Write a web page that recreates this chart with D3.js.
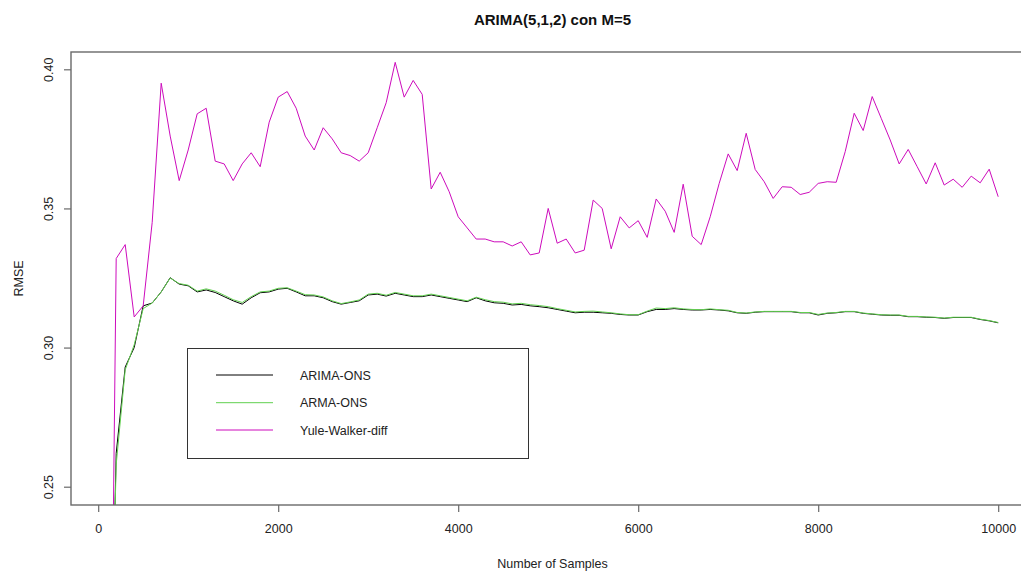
<!DOCTYPE html>
<html>
<head>
<meta charset="utf-8">
<script src="https://cdn.jsdelivr.net/npm/d3@7"></script>
<style>
  body { margin: 0; background: #fff; }
  text { font-family: "Liberation Sans", Arial, sans-serif; }
</style>
</head>
<body>
<script>
// number of samples (x values)
var samples = [
  100, 200, 300, 400, 500, 600, 700, 800, 900, 1000,
  1100, 1200, 1300, 1400, 1500, 1600, 1700, 1800, 1900, 2000,
  2100, 2200, 2300, 2400, 2500, 2600, 2700, 2800, 2900, 3000,
  3100, 3200, 3300, 3400, 3500, 3600, 3700, 3800, 3900, 4000,
  4100, 4200, 4300, 4400, 4500, 4600, 4700, 4800, 4900, 5000,
  5100, 5200, 5300, 5400, 5500, 5600, 5700, 5800, 5900, 6000,
  6100, 6200, 6300, 6400, 6500, 6600, 6700, 6800, 6900, 7000,
  7100, 7200, 7300, 7400, 7500, 7600, 7700, 7800, 7900, 8000,
  8100, 8200, 8300, 8400, 8500, 8600, 8700, 8800, 8900, 9000,
  9100, 9200, 9300, 9400, 9500, 9600, 9700, 9800, 9900, 10000
];

var arimaOns = [
  0.120, 0.262, 0.293, 0.300, 0.315, 0.316, 0.320, 0.3251, 0.3228, 0.3222,
  0.3200, 0.3207, 0.3198, 0.3183, 0.3168, 0.3156, 0.3179, 0.3197, 0.3200, 0.3210,
  0.3213, 0.3200, 0.3186, 0.3186, 0.3179, 0.3165, 0.3156, 0.3162, 0.3168, 0.3189,
  0.3192, 0.3185, 0.3195, 0.3189, 0.3183, 0.3183, 0.3189, 0.3183, 0.3177, 0.3171,
  0.3165, 0.3179, 0.3168, 0.3161, 0.3159, 0.3153, 0.3155, 0.3150, 0.3147, 0.3143,
  0.3137, 0.3131, 0.3125, 0.3127, 0.3127, 0.3125, 0.3123, 0.3119, 0.3117, 0.3117,
  0.3129, 0.3137, 0.3137, 0.3140, 0.3137, 0.3135, 0.3135, 0.3137, 0.3135, 0.3132,
  0.3125, 0.3123, 0.3127, 0.3129, 0.3129, 0.3129, 0.3129, 0.3125, 0.3125, 0.3117,
  0.3123, 0.3125, 0.3129, 0.3129, 0.3123, 0.3120, 0.3117, 0.3116, 0.3116, 0.3111,
  0.3111, 0.3109, 0.3108, 0.3105, 0.3108, 0.3108, 0.3108, 0.3101, 0.3096, 0.3089
];

var armaOns = [
  0.130, 0.258, 0.292, 0.301, 0.314, 0.316, 0.320, 0.3250, 0.3230, 0.3224,
  0.3203, 0.3211, 0.3203, 0.3188, 0.3172, 0.3162, 0.3183, 0.3200, 0.3203, 0.3213,
  0.3215, 0.3203, 0.3190, 0.3189, 0.3182, 0.3168, 0.3158, 0.3164, 0.3171, 0.3192,
  0.3195, 0.3188, 0.3198, 0.3192, 0.3186, 0.3186, 0.3192, 0.3186, 0.3180, 0.3174,
  0.3168, 0.3181, 0.3172, 0.3165, 0.3163, 0.3157, 0.3159, 0.3154, 0.3151, 0.3147,
  0.3140, 0.3134, 0.3128, 0.3130, 0.3131, 0.3128, 0.3125, 0.3121, 0.3118, 0.3118,
  0.3131, 0.3142, 0.3140, 0.3143, 0.3139, 0.3137, 0.3136, 0.3139, 0.3136, 0.3134,
  0.3126, 0.3124, 0.3128, 0.3130, 0.3130, 0.3130, 0.3130, 0.3126, 0.3126, 0.3119,
  0.3124, 0.3126, 0.3130, 0.3130, 0.3124, 0.3121, 0.3118, 0.3117, 0.3117, 0.3112,
  0.3112, 0.3110, 0.3109, 0.3106, 0.3109, 0.3109, 0.3109, 0.3102, 0.3097, 0.3090
];

var yuleWalker = [
  0.040, 0.332, 0.337, 0.311, 0.315, 0.345, 0.395, 0.376, 0.360, 0.371,
  0.384, 0.386, 0.367, 0.366, 0.360, 0.366, 0.370, 0.365, 0.381, 0.390,
  0.392, 0.386, 0.376, 0.371, 0.379, 0.375, 0.370, 0.369, 0.367, 0.370,
  0.379, 0.388, 0.4025, 0.390, 0.396, 0.391, 0.357, 0.363, 0.356, 0.347,
  0.343, 0.339, 0.339, 0.338, 0.338, 0.3365, 0.338, 0.3333, 0.334, 0.350,
  0.3375, 0.339, 0.334, 0.335, 0.353, 0.350, 0.3355, 0.347, 0.343, 0.3456,
  0.3396, 0.3534, 0.349, 0.3414, 0.3587, 0.340, 0.337, 0.347, 0.359, 0.3696,
  0.3636, 0.377, 0.364, 0.3596, 0.3536, 0.3578, 0.3576, 0.355, 0.3558, 0.359,
  0.3596, 0.3594, 0.3704, 0.3842, 0.378, 0.3902, 0.3824, 0.3746, 0.366, 0.3712,
  0.365, 0.3588, 0.3664, 0.3584, 0.3605, 0.3576, 0.3616, 0.3592, 0.3641, 0.3542
];

var xTicks = [0, 2000, 4000, 6000, 8000, 10000];
var yTicks = [0.25, 0.30, 0.35, 0.40];

var seriesNames = ["ARIMA-ONS", "ARMA-ONS", "Yule-Walker-diff"];
var seriesColors = ["#000000", "#61D04F", "#CD0BBC"];

var w = 1021, h = 571;
var box = { left: 71, top: 52, right: 1034, bottom: 505 };

var svg = d3.select("body").append("svg")
    .attr("width", w)
    .attr("height", h);

var xScale = d3.scaleLinear()
    .domain([0, 10000])
    .range([98.2, 998.2]);

var yScale = d3.scaleLinear()
    .domain([0.25, 0.40])
    .range([486.7, 69.3]);

svg.append("clipPath").attr("id", "plotclip")
  .append("rect")
    .attr("x", box.left)
    .attr("y", box.top)
    .attr("width", box.right - box.left)
    .attr("height", box.bottom - box.top);

var line = d3.line()
    .x(function(d) { return xScale(d[0]); })
    .y(function(d) { return yScale(d[1]); });

var allSeries = [arimaOns, armaOns, yuleWalker];

var plot = svg.append("g").attr("clip-path", "url(#plotclip)");

allSeries.forEach(function(vals, i) {
  var pts = samples.map(function(s, j) { return [s, vals[j]]; });
  plot.append("path")
    .datum(pts)
    .attr("fill", "none")
    .attr("stroke", seriesColors[i])
    .attr("stroke-width", 1)
    .attr("d", line);
});

// box round plot region
svg.append("rect")
    .attr("x", box.left)
    .attr("y", box.top)
    .attr("width", box.right - box.left)
    .attr("height", box.bottom - box.top)
    .attr("fill", "none")
    .attr("stroke", "#6a6a6a")
    .attr("stroke-width", 1.4);

// x axis
var xAxis = svg.append("g")
    .attr("transform", "translate(0," + box.bottom + ")")
    .call(d3.axisBottom(xScale).tickValues(xTicks).tickSize(7).tickPadding(12)
      .tickFormat(d3.format("d")));
xAxis.select(".domain").remove();
xAxis.selectAll("line").attr("stroke", "#6a6a6a").attr("stroke-width", 1.2);
xAxis.selectAll("text").attr("font-size", "12.5px").attr("fill", "#222")
    .attr("font-family", "Liberation Sans, Arial, sans-serif");

// y axis
var yAxis = svg.append("g")
    .attr("transform", "translate(" + box.left + ",0)")
    .call(d3.axisLeft(yScale).tickValues(yTicks).tickSize(7)
      .tickFormat(d3.format(".2f")));
yAxis.select(".domain").remove();
yAxis.selectAll("line").attr("stroke", "#6a6a6a").attr("stroke-width", 1.2);
yAxis.selectAll("text")
    .attr("font-size", "12.5px").attr("fill", "#222")
    .attr("font-family", "Liberation Sans, Arial, sans-serif")
    .attr("x", null).attr("dy", null)
    .attr("text-anchor", "middle")
    .attr("transform", "translate(-18,0) rotate(-90)");

// title and axis labels
svg.append("text")
    .attr("x", 552.5).attr("y", 25)
    .attr("text-anchor", "middle")
    .attr("font-size", "15px").attr("font-weight", "bold")
    .attr("fill", "#111")
    .text("ARIMA(5,1,2) con M=5");

svg.append("text")
    .attr("x", 552.5).attr("y", 568)
    .attr("text-anchor", "middle")
    .attr("font-size", "12.5px").attr("fill", "#222")
    .text("Number of Samples");

svg.append("text")
    .attr("transform", "translate(23," + ((box.top + box.bottom) / 2) + ") rotate(-90)")
    .attr("text-anchor", "middle")
    .attr("font-size", "12.5px").attr("fill", "#222")
    .text("RMSE");

// legend
var legend = svg.append("g");
legend.append("rect")
    .attr("x", 187.5).attr("y", 348.5)
    .attr("width", 341).attr("height", 110)
    .attr("fill", "#fff")
    .attr("stroke", "#333").attr("stroke-width", 1);

var legendRows = [375, 402.7, 430];
seriesNames.forEach(function(name, i) {
  legend.append("line")
    .attr("x1", 216).attr("x2", 273)
    .attr("y1", legendRows[i]).attr("y2", legendRows[i])
    .attr("stroke", seriesColors[i]).attr("stroke-width", 1);
  legend.append("text")
    .attr("x", 300).attr("y", legendRows[i] + 4.5)
    .attr("font-size", "12.5px").attr("fill", "#222")
    .text(name);
});
</script>
</body>
</html>
